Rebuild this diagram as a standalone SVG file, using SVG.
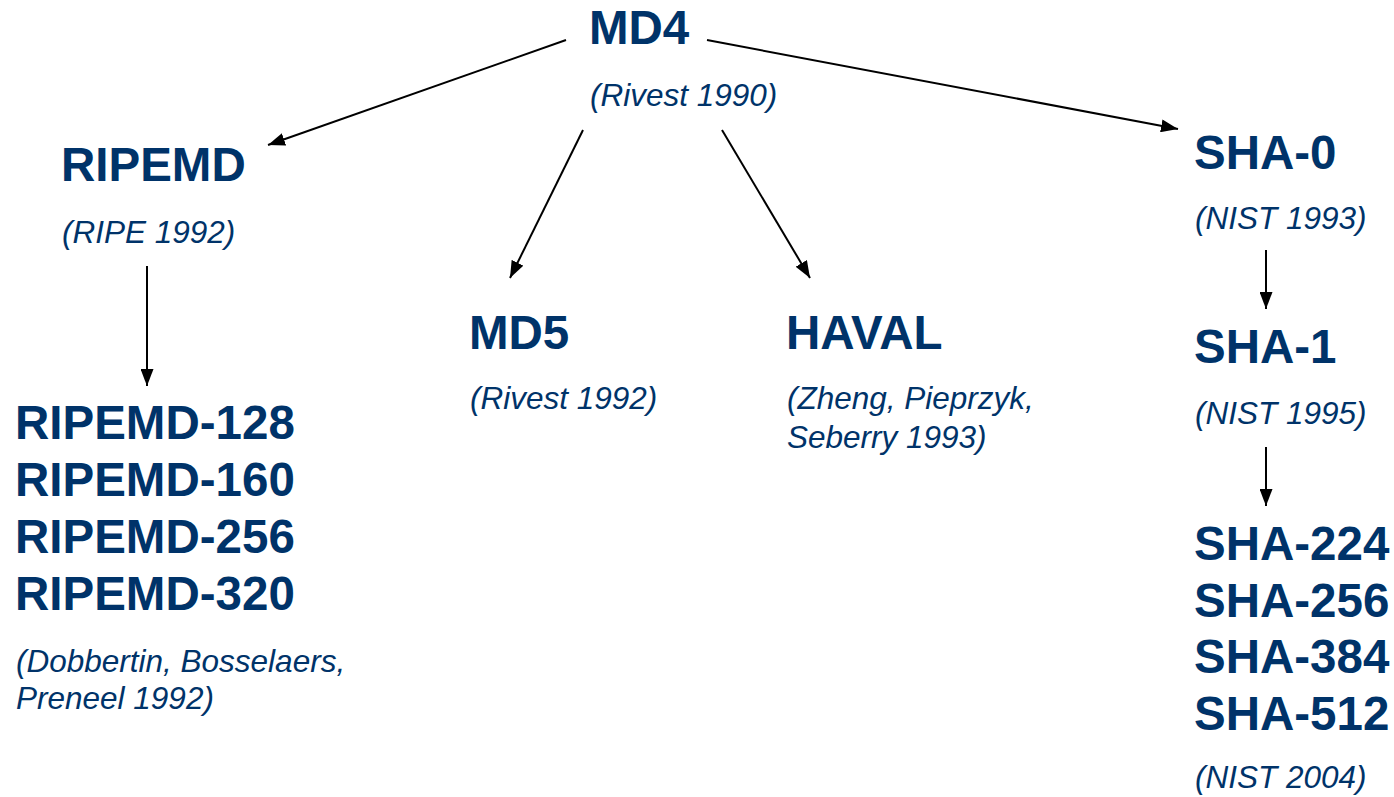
<svg xmlns="http://www.w3.org/2000/svg" width="1394" height="797" viewBox="0 0 1394 797">
<defs>
<marker id="ah" viewBox="0 0 17 13" refX="17" refY="6.5" markerWidth="17" markerHeight="13" markerUnits="userSpaceOnUse" orient="auto">
<path d="M0,0 L17,6.5 L0,13 Z" fill="#000"/>
</marker>
<style>
.t{font-family:"Liberation Sans",Arial,sans-serif;font-weight:bold;font-size:47.5px;fill:#003369}
.s{font-family:"Liberation Sans",Arial,sans-serif;font-style:italic;font-size:31.5px;fill:#003369}
.c{stroke:#000;stroke-width:2;fill:none;marker-end:url(#ah)}
</style>
</defs>
<rect width="1394" height="797" fill="#fff"/>
<g id="connectors">
<line class="c" x1="566" y1="40" x2="268" y2="145"/>
<line class="c" x1="707" y1="40" x2="1178" y2="129"/>
<line class="c" x1="583" y1="130" x2="510" y2="278"/>
<line class="c" x1="722" y1="130" x2="810" y2="278"/>
<line class="c" x1="147" y1="266" x2="147" y2="386"/>
<line class="c" x1="1266" y1="250" x2="1266" y2="309"/>
<line class="c" x1="1266" y1="447" x2="1266" y2="506"/>
</g>
<g id="md4">
<text class="t" x="589" y="44">MD4</text>
<text class="s" x="590" y="106">(Rivest 1990)</text>
</g>
<g id="ripemd">
<text class="t" x="61" y="181">RIPEMD</text>
<text class="s" x="62" y="243">(RIPE 1992)</text>
</g>
<g id="ripemd-family">
<text class="t" x="15" y="439">RIPEMD-128</text>
<text class="t" x="15" y="496">RIPEMD-160</text>
<text class="t" x="15" y="553">RIPEMD-256</text>
<text class="t" x="15" y="610">RIPEMD-320</text>
<text class="s" x="16" y="672">(Dobbertin, Bosselaers,</text>
<text class="s" x="16" y="709">Preneel 1992)</text>
</g>
<g id="md5">
<text class="t" x="469" y="349">MD5</text>
<text class="s" x="470" y="409">(Rivest 1992)</text>
</g>
<g id="haval">
<text class="t" x="786" y="349">HAVAL</text>
<text class="s" x="787" y="409">(Zheng, Pieprzyk,</text>
<text class="s" x="787" y="448">Seberry 1993)</text>
</g>
<g id="sha0">
<text class="t" x="1194" y="169">SHA-0</text>
<text class="s" x="1195" y="229">(NIST 1993)</text>
</g>
<g id="sha1">
<text class="t" x="1194" y="363">SHA-1</text>
<text class="s" x="1195" y="424">(NIST 1995)</text>
</g>
<g id="sha2">
<text class="t" x="1194" y="560">SHA-224</text>
<text class="t" x="1194" y="617">SHA-256</text>
<text class="t" x="1194" y="673">SHA-384</text>
<text class="t" x="1194" y="730">SHA-512</text>
<text class="s" x="1195" y="788">(NIST 2004)</text>
</g>
</svg>
